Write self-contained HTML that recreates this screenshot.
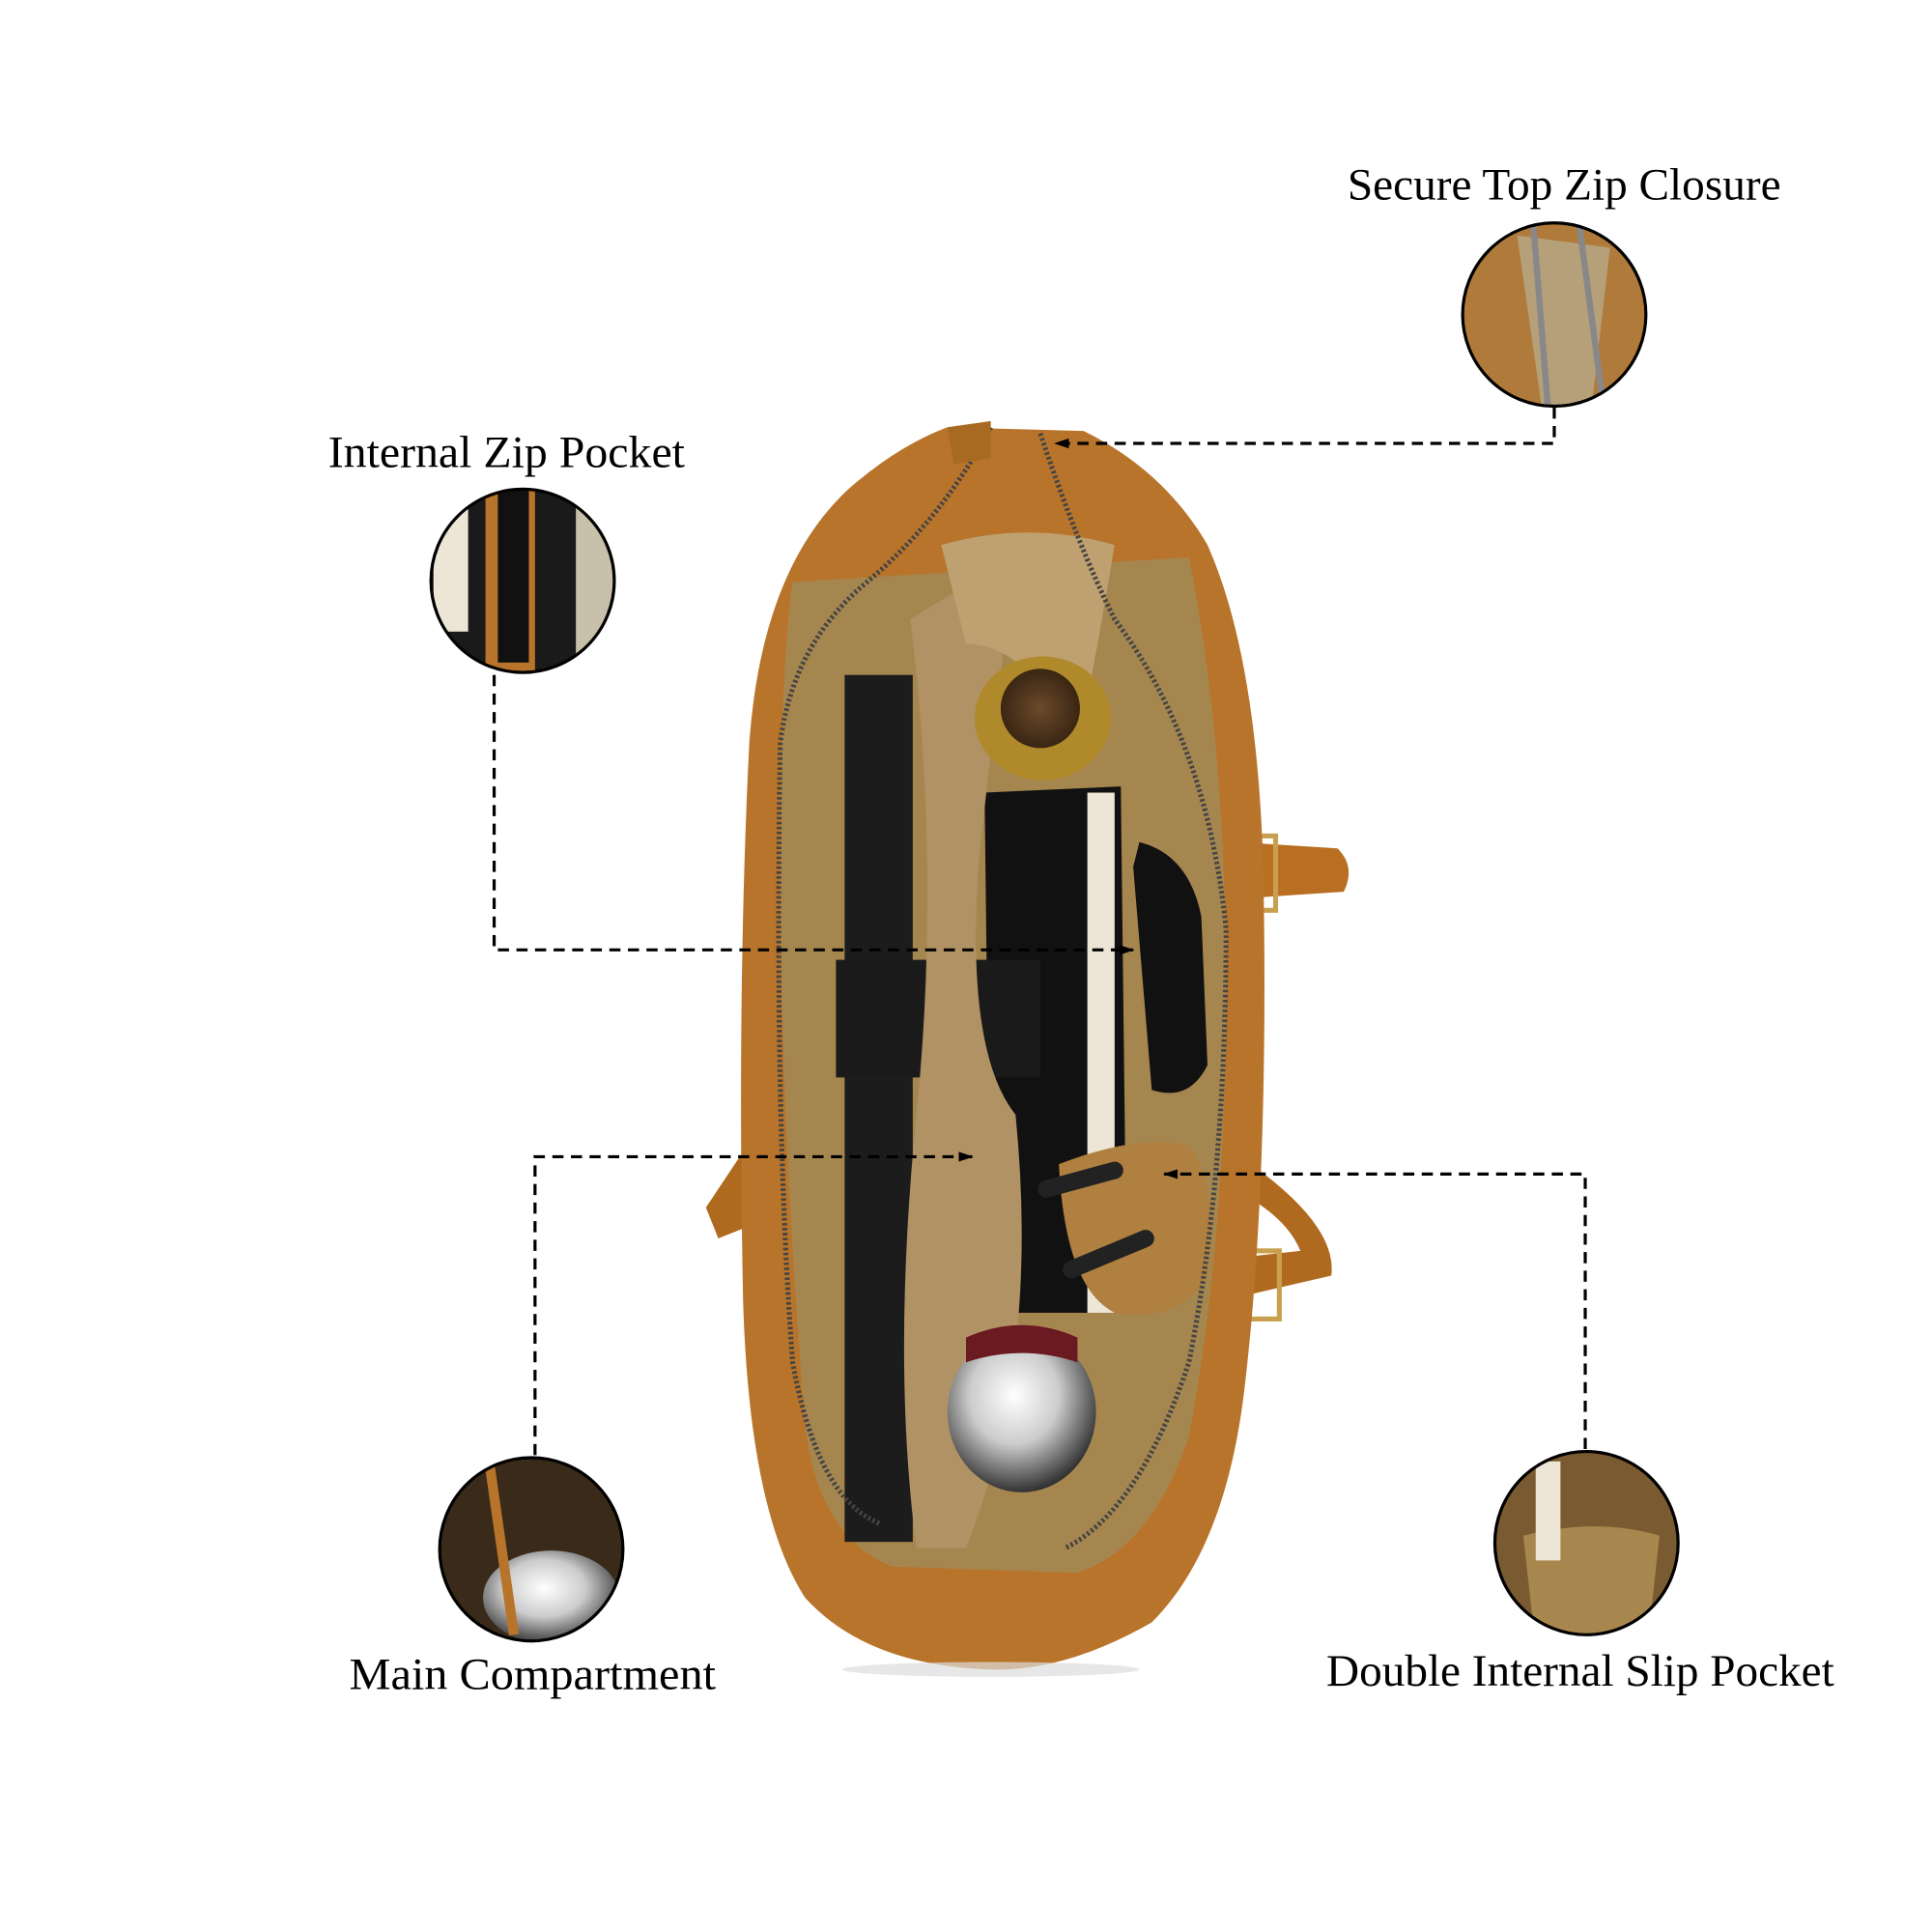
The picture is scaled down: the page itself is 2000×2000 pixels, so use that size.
<!DOCTYPE html>
<html><head><meta charset="utf-8"><style>html,body{margin:0;padding:0;background:#fff}svg{display:block}</style></head>
<body>
<svg width="2000" height="2000" viewBox="0 0 1560 1560" xmlns="http://www.w3.org/2000/svg">
<defs>
<marker id="ar" markerWidth="12" markerHeight="10" refX="11" refY="5" orient="auto" markerUnits="userSpaceOnUse"><path d="M0,1 L12,5 L0,9 z" fill="#000"/></marker>
<radialGradient id="met" cx="0.45" cy="0.4" r="0.6"><stop offset="0" stop-color="#fff"/><stop offset="0.5" stop-color="#ccc"/><stop offset="1" stop-color="#333"/></radialGradient>
<radialGradient id="wood" cx="0.5" cy="0.5" r="0.5"><stop offset="0" stop-color="#6b4a2a"/><stop offset="1" stop-color="#3a2614"/></radialGradient>
<clipPath id="c1"><circle cx="1255" cy="254" r="74"/></clipPath>
<clipPath id="c2"><circle cx="422" cy="469" r="74"/></clipPath>
<clipPath id="c3"><circle cx="429" cy="1251" r="74"/></clipPath>
<clipPath id="c4"><circle cx="1281" cy="1246" r="74"/></clipPath>
</defs>
<g font-family="'Liberation Serif', serif" font-size="36" fill="#000">
<text x="1088" y="161" textLength="350" lengthAdjust="spacingAndGlyphs">Secure Top Zip Closure</text>
<text x="265" y="377" textLength="288" lengthAdjust="spacingAndGlyphs">Internal Zip Pocket</text>
<text x="282" y="1364" textLength="296" lengthAdjust="spacingAndGlyphs">Main Compartment</text>
<text x="1071" y="1361" textLength="410" lengthAdjust="spacingAndGlyphs">Double Internal Slip Pocket</text>
</g>
<!-- handles right -->
<path d="M1000,680 L1080,685 Q1095,700 1085,720 L1010,725 Z" fill="#b86f22"/>
<path d="M1010,940 Q1080,990 1075,1030 L1010,1045 L1005,1015 L1050,1010 Q1040,985 1005,965 Z" fill="#b06a20"/>
<rect x="1005" y="675" width="25" height="60" fill="none" stroke="#c8a050" stroke-width="4"/>
<rect x="1008" y="1010" width="25" height="55" fill="none" stroke="#c8a050" stroke-width="4"/>
<path d="M600,930 L570,975 L580,1000 L605,990 Z" fill="#b06a20"/>
<!-- bag body -->
<path d="M765,345 L875,348 Q940,380 975,440 Q1015,530 1020,700 Q1025,950 1005,1120 Q990,1250 930,1310 Q860,1350 800,1348 Q700,1345 650,1290 Q605,1220 600,1050 Q595,800 605,600 Q615,460 685,395 Q725,360 765,345 Z" fill="#b8742a"/>
<path d="M640,470 L960,450 Q990,600 990,800 Q990,1000 960,1160 Q930,1250 870,1270 L720,1265 Q660,1240 650,1150 Q630,900 630,700 Q630,540 640,470 Z" fill="#a6864f"/>
<!-- black items -->
<rect x="682" y="545" width="55" height="700" fill="#1c1c1c"/>
<path d="M795,640 L905,635 L910,1060 L800,1060 Z" fill="#111"/>
<rect x="878" y="640" width="22" height="420" fill="#ede6d6"/>
<path d="M920,680 Q960,690 970,740 L975,860 Q960,890 930,880 L915,700 Z" fill="#111"/>
<rect x="675" y="775" width="165" height="95" fill="#1a1a1a"/>
<!-- lining folds -->
<path d="M735,500 Q800,460 820,450 Q800,600 790,700 Q780,850 820,900 Q840,1100 780,1250 L740,1250 Q720,1100 740,900 Q760,700 735,500 Z" fill="#b09264"/>
<path d="M760,440 Q830,420 900,440 Q880,560 870,600 Q830,520 780,520 Z" fill="#bfa070"/>
<ellipse cx="842" cy="580" rx="55" ry="50" fill="#b08a2a"/>
<circle cx="840" cy="572" r="32" fill="url(#wood)"/>
<ellipse cx="825" cy="1140" rx="60" ry="65" fill="url(#met)"/>
<path d="M780,1080 Q825,1060 870,1080 L870,1100 Q825,1085 780,1100 Z" fill="#6a1a20"/>
<path d="M855,940 Q920,915 960,925 Q985,960 975,1030 Q950,1070 900,1060 Q860,1040 855,940 Z" fill="#b08040"/>
<path d="M845,960 L900,945 M865,1025 L925,1000" stroke="#222" stroke-width="14" stroke-linecap="round"/>
<path d="M800,345 Q760,420 700,470 Q640,520 630,600 Q625,900 640,1100 Q660,1210 710,1230" fill="none" stroke="#444" stroke-width="4" stroke-dasharray="2,2"/>
<path d="M840,350 Q870,440 900,500 Q975,600 990,750 Q990,950 960,1100 Q920,1220 860,1250" fill="none" stroke="#444" stroke-width="4" stroke-dasharray="2,2"/>
<path d="M765,345 L800,340 L800,370 L770,375 Z" fill="#a86a20"/>
<ellipse cx="800" cy="1348" rx="120" ry="6" fill="#ddd" opacity="0.7"/>
<!-- circles -->
<circle cx="1255" cy="254" r="74" fill="#b07a3a"/>
<g clip-path="url(#c1)"><path d="M1225,190 L1245,330 L1285,330 L1300,200 Z" fill="#b5a07a"/><path d="M1238,180 L1250,330 M1275,180 L1295,330" stroke="#888" stroke-width="5"/></g>
<circle cx="422" cy="469" r="74" fill="#1a1a1a"/>
<g clip-path="url(#c2)"><rect x="350" y="410" width="28" height="100" fill="#ede6d6"/><rect x="392" y="395" width="40" height="150" fill="#b8742a"/><rect x="402" y="395" width="25" height="140" fill="#111"/><rect x="465" y="400" width="30" height="130" fill="#c8c0aa"/></g>
<circle cx="429" cy="1251" r="74" fill="#3a2a1a"/>
<g clip-path="url(#c3)"><ellipse cx="445" cy="1290" rx="55" ry="38" fill="url(#met)"/><path d="M395,1180 L415,1320" stroke="#b8742a" stroke-width="8"/></g>
<circle cx="1281" cy="1246" r="74" fill="#7a5a30"/>
<g clip-path="url(#c4)"><path d="M1230,1240 Q1290,1225 1340,1240 L1330,1330 L1240,1330 Z" fill="#a8874f"/><rect x="1240" y="1180" width="20" height="80" fill="#ede6d6"/></g>
<g fill="none" stroke="#000" stroke-width="2.5">
<circle cx="1255" cy="254" r="74"/><circle cx="422" cy="469" r="74"/><circle cx="429" cy="1251" r="74"/><circle cx="1281" cy="1246" r="74"/>
</g>
<g fill="none" stroke="#000" stroke-width="2.5" stroke-dasharray="9,6">
<path d="M1255,329 L1255,358 L852,358" marker-end="url(#ar)"/>
<path d="M399,545 L399,767 L915,767" marker-end="url(#ar)"/>
<path d="M432,1175 L432,934 L785,934" marker-end="url(#ar)"/>
<path d="M1280,1170 L1280,948 L940,948" marker-end="url(#ar)"/>
</g>
</svg>
</body></html>
